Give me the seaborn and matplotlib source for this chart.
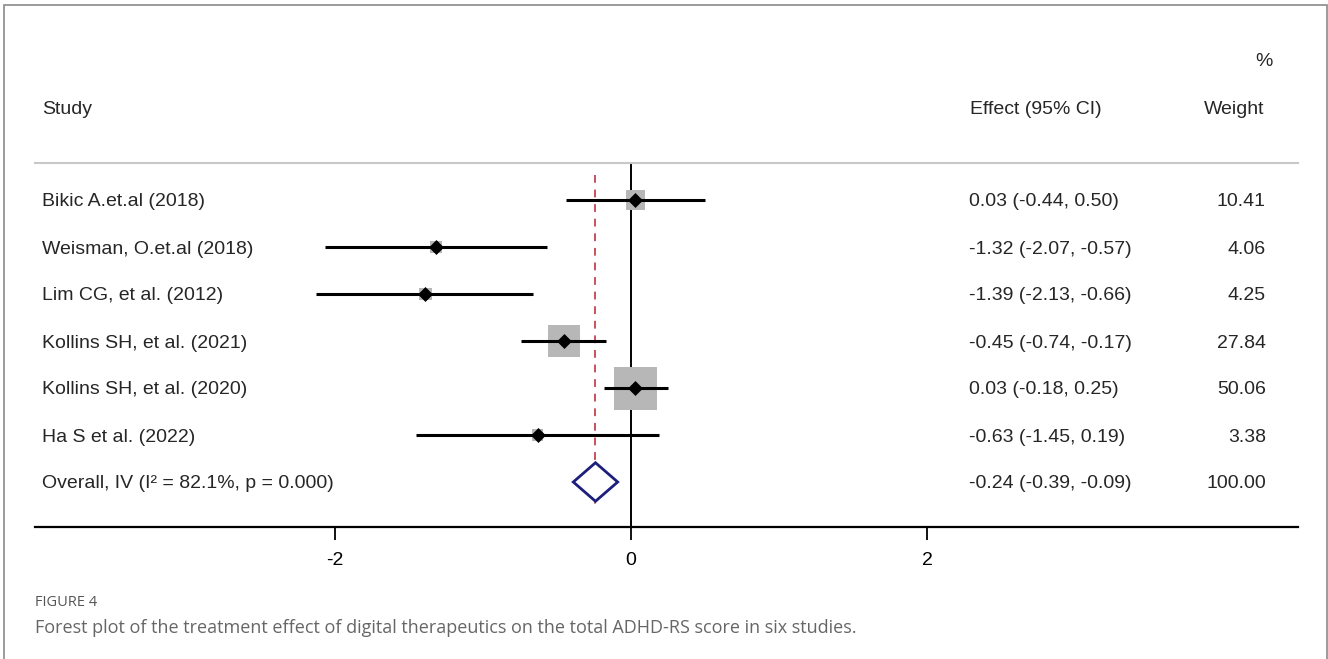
import matplotlib
matplotlib.use("Agg")
import matplotlib.pyplot as plt
from matplotlib.patches import Rectangle
import numpy as np
import pandas as pd
import seaborn as sns

# Study-level data
studies = [
    "Bikic A.et.al (2018)",
    "Weisman, O.et.al (2018)",
    "Lim CG, et al. (2012)",
    "Kollins SH, et al. (2021)",
    "Kollins SH, et al. (2020)",
    "Ha S et al. (2022)",
]
effects = [0.03, -1.32, -1.39, -0.45, 0.03, -0.63]
ci_low = [-0.44, -2.07, -2.13, -0.74, -0.18, -1.45]
ci_high = [0.50, -0.57, -0.66, -0.17, 0.25, 0.19]
weights = [10.41, 4.06, 4.25, 27.84, 50.06, 3.38]

# Pooled estimate
overall_label = "Overall, IV (I\u00b2 = 82.1%, p = 0.000)"
overall_effect = -0.24
overall_low = -0.39
overall_high = -0.09
overall_weight = 100.00

xticks = [-2, 0, 2]

df = pd.DataFrame({
    "study": studies,
    "effect": effects,
    "lo": ci_low,
    "hi": ci_high,
    "weight": weights,
})
df["row"] = np.arange(len(df))
overall_row = len(df)

sns.set_theme(style="white")
plt.rcParams["font.family"] = ["Liberation Sans", "DejaVu Sans"]

W, H = 1328, 659
fig = plt.figure(figsize=(W / 100, H / 100), dpi=100)
fig.patch.set_facecolor("white")

# axes box in pixel terms: left 35, right 1298, top 163, bottom 527
ax = fig.add_axes([35 / W, 1 - 527 / H, (1298 - 35) / W, (527 - 163) / H])
ax.set_xlim((35 - 631) / 148, (1298 - 631) / 148)
ax.set_ylim((527 - 200) / 47, (163 - 200) / 47)
ax.set_facecolor("white")

# weight boxes (area proportional to weight)
max_side_px = 43
sides_pt = max_side_px * 0.72 * np.sqrt(df["weight"] / max(weights))
ax.scatter(df["effect"], df["row"], s=sides_pt ** 2, marker="s",
           color="#b7b7b7", linewidths=0, zorder=2)

# confidence intervals
ax.hlines(df["row"], df["lo"], df["hi"], color="black", lw=2.2, zorder=3)

# point estimates
sns.scatterplot(data=df, x="effect", y="row", marker="D", s=58,
                color="black", edgecolor="black", linewidth=0, ax=ax,
                zorder=4, legend=False)

# null line
ax.axvline(0, color="black", lw=1.4, zorder=1)

# pooled estimate line
ax.vlines(overall_effect, (175 - 200) / 47, (505 - 200) / 47,
          color="#c9505c", lw=1.4, linestyles=(0, (4, 3.5)), zorder=1)

# pooled diamond
h = 0.41
ax.fill([overall_low, overall_effect, overall_high, overall_effect],
        [overall_row, overall_row - h, overall_row, overall_row + h],
        facecolor="white", edgecolor="#1c1f7d", lw=2, zorder=5)

# spines
for side in ["left", "right"]:
    ax.spines[side].set_visible(False)
ax.spines["top"].set_color("#c8c8c8")
ax.spines["top"].set_linewidth(1.5)
ax.spines["bottom"].set_color("black")
ax.spines["bottom"].set_linewidth(1.6)

fs = 14
ax.set_xticks(xticks)
ax.set_xticklabels([f"{t:g}" for t in xticks], fontsize=fs)
ax.tick_params(axis="x", bottom=True, length=9, width=1.3, pad=9,
               colors="black")
ax.set_yticks([])
ax.set_xlabel("")
ax.set_ylabel("")

# text columns
x_study = (42 - 631) / 148
x_effect = (969 - 631) / 148
x_weight = (1266 - 631) / 148
va = "center_baseline"
for _, r in df.iterrows():
    ax.text(x_study, r["row"], r["study"], ha="left", va=va,
            fontsize=fs, clip_on=False)
    ax.text(x_effect, r["row"],
            f"{r['effect']:.2f} ({r['lo']:.2f}, {r['hi']:.2f})",
            ha="left", va=va, fontsize=fs, clip_on=False)
    ax.text(x_weight, r["row"], f"{r['weight']:.2f}", ha="right",
            va=va, fontsize=fs, clip_on=False)

ax.text(x_study, overall_row, overall_label, ha="left", va=va,
        fontsize=fs, clip_on=False)
ax.text(x_effect, overall_row,
        f"{overall_effect:.2f} ({overall_low:.2f}, {overall_high:.2f})",
        ha="left", va=va, fontsize=fs, clip_on=False)
ax.text(x_weight, overall_row, f"{overall_weight:.2f}", ha="right",
        va=va, fontsize=fs, clip_on=False)

# headers
y_head = (107 - 200) / 47
ax.text(x_study, y_head, "Study", ha="left", va=va, fontsize=fs,
        clip_on=False)
ax.text((970 - 631) / 148, y_head, "Effect (95% CI)", ha="left",
        va=va, fontsize=fs, clip_on=False)
ax.text((1264 - 631) / 148, y_head, "Weight", ha="right", va=va,
        fontsize=fs, clip_on=False)
ax.text((1273 - 631) / 148, (60 - 200) / 47, "%", ha="right", va=va,
        fontsize=fs, clip_on=False)

# caption
fig.text(35 / W, 1 - 602 / H, "FIGURE 4", ha="left", va="center",
         fontsize=10.5, color="#555555", family=["Open Sans", "DejaVu Sans"])
fig.text(35 / W, 1 - 628 / H,
         "Forest plot of the treatment effect of digital therapeutics on the "
         "total ADHD-RS score in six studies.",
         ha="left", va="center", fontsize=13, color="#666666",
         family=["Open Sans", "DejaVu Sans"])

# outer frame
frame = Rectangle((4 / W, -0.05), (1327 - 4) / W, 1.05 - 5 / H,
                  transform=fig.transFigure, fill=False,
                  edgecolor="#8a8a8a", lw=1.2)
fig.patches.append(frame)

fig.savefig("out.png", dpi=100, facecolor="white")
